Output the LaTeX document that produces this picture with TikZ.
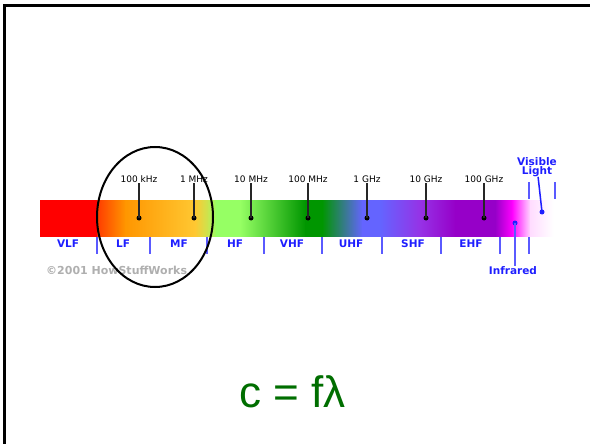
\documentclass[tikz,border=0pt]{standalone}
\usepackage{fontspec}
\setmainfont{Liberation Sans}
\newfontfamily\dejavu{DejaVu Sans}
\usetikzlibrary{positioning}
\definecolor{bandblue}{RGB}{30,30,255}
\definecolor{lineblue}{RGB}{90,90,255}
\definecolor{eqgreen}{RGB}{0,110,0}
\definecolor{cprgray}{RGB}{175,175,175}
\definecolor{spred}{RGB}{255,0,0}
\definecolor{sporangered}{RGB}{255,60,0}
\definecolor{sporange}{RGB}{255,150,0}
\definecolor{spyellow}{RGB}{255,200,50}
\definecolor{splime}{RGB}{200,230,80}
\definecolor{splight}{RGB}{150,255,100}
\definecolor{spgreen}{RGB}{0,150,0}
\definecolor{spblue}{RGB}{100,100,255}
\definecolor{sppurple}{RGB}{150,50,230}
\definecolor{spviolet}{RGB}{150,0,200}
\definecolor{spmagenta}{RGB}{255,0,255}
\definecolor{sppink}{RGB}{255,220,255}

\begin{document}
\begin{tikzpicture}[x=1pt, y=-1pt,
    freq/.style={inner sep=0.5pt, font=\dejavu\fontsize{9}{10}\selectfont},
    band/.style={inner sep=0pt, text=bandblue, font=\dejavu\bfseries\fontsize{10.5}{9}\selectfont, align=center},
    pindot/.style={circle, fill=black, inner sep=0pt, minimum size=5pt},
    bluedot/.style={circle, fill=bandblue, inner sep=0pt, minimum size=5pt},
    tick/.style={line width=1.4pt, black!85},
    sep/.style={line width=1.5pt, lineblue}
]
    \useasboundingbox (0,0) rectangle (590,444);
    \draw[line width=2.5pt] (4.5,444) -- (4.5,5.5) -- (590,5.5);

    \foreach \xa/\xb/\ca/\cb in {40/97/spred/spred, 97/125/sporangered/sporange,
        125/195/sporange/spyellow, 195/208/spyellow/splime, 208/216/splime/splight,
        216/240/splight/splight, 240/305/splight/spgreen, 305/322/spgreen/spgreen,
        322/362/spgreen/spblue, 362/380/spblue/spblue, 380/420/spblue/sppurple,
        420/455/sppurple/spviolet, 455/495/spviolet/spviolet, 495/512/spviolet/spmagenta,
        512/530/spmagenta/sppink, 530/553/sppink/white}
        \shade[left color=\ca, right color=\cb] (\xa,200) rectangle (\xb+0.6,236);

    \foreach \x/\t [count=\i] in {139/100 kHz, 194/1 MHz, 251/10 MHz, 308/100 MHz,
        367/1 GHz, 426/10 GHz, 484/100 GHz} {
        \node[freq] (f\i) at (\x,179) {\t};
        \node[pindot] (d\i) at (\x,218) {};
        \draw[tick] (f\i) -- (d\i.center);
    }

    \foreach \x/\t [count=\i] in {68/VLF, 123/LF, 179/MF, 235/HF, 292/VHF,
        351/UHF, 413/SHF, 471/EHF}
        \node[band] (b\i) at (\x,244) {\t};

    \foreach \x in {97,150,207,264,322,382,441,500,529}
        \draw[sep] (\x,237) -- (\x,254);
    \foreach \x in {529,555}
        \draw[sep] (\x,182) -- (\x,199);

    \node[band] (vis) at (537,167) {Visible\\Light};
    \node[bluedot] (visdot) at (542,212) {};
    \draw[sep, bandblue] (vis) -- (visdot.center);

    \node[band] (ir) at (513,270.5) {Infrared};
    \node[bluedot] (irdot) at (515,223) {};
    \draw[sep] (irdot.center) -- (irdot |- ir.north);

    \node[anchor=west, inner sep=0pt, text=cprgray,
        font=\dejavu\bfseries\fontsize{11}{11}\selectfont] (cpr) at (46,270) {©2001 HowStuffWorks};

    \draw[line width=2pt] (155,217) ellipse [x radius=58, y radius=70];

    \node[anchor=base west, inner sep=0pt, text=eqgreen,
        font=\fontsize{44}{44}\selectfont] (eq) at (239,407) {c = fλ};
\end{tikzpicture}
\end{document}
